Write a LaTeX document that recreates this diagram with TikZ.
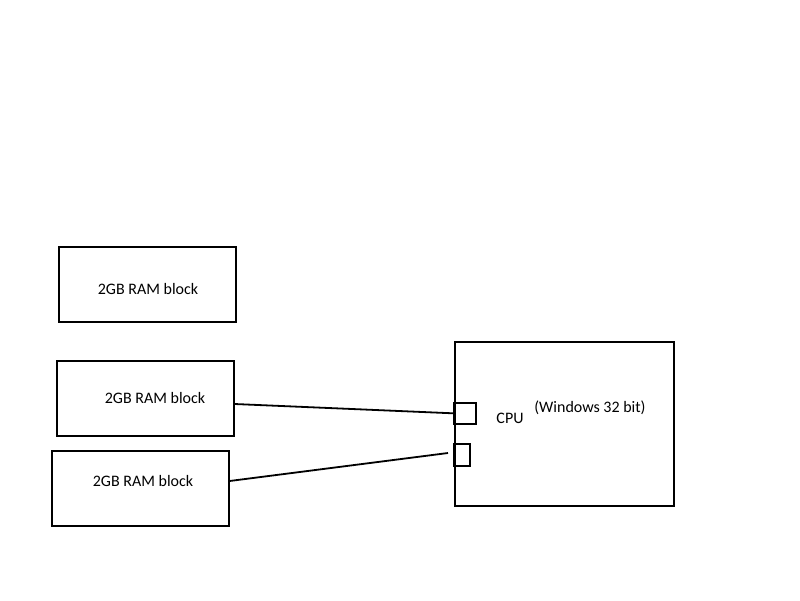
\documentclass[tikz,border=0pt]{standalone}
\usepackage{fontspec}
\setmainfont{Carlito}
\begin{document}
\begin{tikzpicture}[x=1pt,y=-1pt,
  box/.style={draw,line width=1.6pt,inner sep=0pt,anchor=north west},
  lbl/.style={inner sep=0pt,font=\fontsize{16}{19}\selectfont},
  wire/.style={line width=1.8pt}]
\useasboundingbox (0,0) rectangle (800,600);
\node[box,minimum width=177pt,minimum height=75pt] (ram1) at (58,246) {};
\node[box,minimum width=177pt,minimum height=75pt] (ram2) at (56,360) {};
\node[box,minimum width=177pt,minimum height=75pt] (ram3) at (51,450) {};
\node[box,minimum width=219pt,minimum height=164pt] (cpu) at (454,341) {};
\node[box,minimum width=22pt,minimum height=21pt] (port1) at (453,402) {};
\node[box,minimum width=16pt,minimum height=22pt] (port2) at (453,443) {};
\node[lbl] (t1) at (148,289) {2GB RAM block};
\node[lbl] (t2) at (155,398) {2GB RAM block};
\node[lbl] (t3) at (143,481) {2GB RAM block};
\node[lbl] (tcpu) at (510,418) {CPU};
\node[lbl] (twin) at (590,408) {(Windows 32 bit)};
\coordinate (a1) at (ram2.east |- 0,404);
\coordinate (a2) at (ram3.east |- 0,481);
\coordinate (b2) at (448,453);
\draw[wire] (a1) -- (port1.west);
\draw[wire] (a2) -- (b2);
\end{tikzpicture}
\end{document}
